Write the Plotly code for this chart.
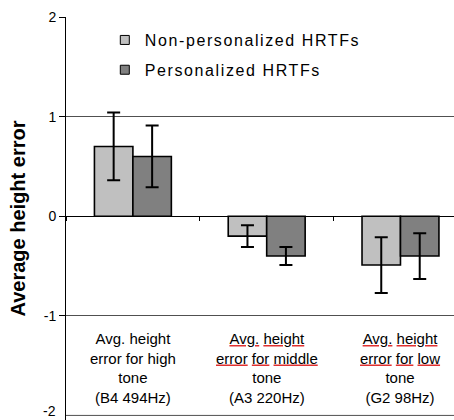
import plotly.graph_objects as go

# ---- data ----
category_lines = [
    ["Avg. height", "error for high", "tone", "(B4 494Hz)"],
    ["Avg. height", "error for middle", "tone", "(A3 220Hz)"],
    ["Avg. height", "error for low", "tone", "(G2 98Hz)"],
]
series_names = ["Non-personalized HRTFs", "Personalized HRTFs"]
non_personalized = [0.70, -0.20, -0.49]
non_personalized_err = [0.34, 0.11, 0.28]
personalized = [0.60, -0.40, -0.40]
personalized_err = [0.31, 0.09, 0.23]
y_ticks = [-2, -1, 0, 1, 2]
y_tick_labels = ["-2", "-1", "0", "1", "2"]
spell_flagged_labels = [1, 2]  # labels with red spell-check underlines
spell_flagged_lines = 2        # first N lines are flagged

FONT = "Arial, Liberation Sans, sans-serif"
GRID = "#505050"
categories = [" ".join(l) for l in category_lines]
colors = ["#C0C0C0", "#808080"]


def fmt_label(i, lines):
    out = []
    for j, line in enumerate(lines):
        if i in spell_flagged_labels and j < spell_flagged_lines:
            words = line.split(" ")
            line = " ".join(
                '<span style="text-decoration:underline;fill:#e03030;">'
                '<span style="fill:#000000;">%s</span></span>' % w
                for w in words
            )
        out.append(line)
    return "<br>".join(out)


fig = go.Figure()
for k, (name, vals, errs, col) in enumerate(zip(
    series_names,
    [non_personalized, personalized],
    [non_personalized_err, personalized_err],
    colors,
)):
    fig.add_trace(
        go.Bar(
            x=categories,
            y=vals,
            name=name,
            marker=dict(color=col, line=dict(color="#000000", width=1.6)),
            error_y=dict(type="data", array=errs, visible=True,
                         color="#000000", thickness=2, width=6.5),
            showlegend=False,
            legendgroup="g%d" % k,
        )
    )
    fig.add_trace(
        go.Scatter(
            x=[None], y=[None], mode="markers",
            name='<span style="letter-spacing:1.6px">%s</span>' % name,
            marker=dict(symbol="square", size=9, color=col,
                        line=dict(color="#000000", width=1)),
            showlegend=True,
            legendgroup="g%d" % k,
        )
    )

for i, lines in enumerate(category_lines):
    fig.add_annotation(
        x=categories[i], y=-1.52, xref="x", yref="y",
        text=fmt_label(i, lines), showarrow=False,
        font=dict(family=FONT, size=15, color="#000000"),
        align="center", yanchor="middle", xanchor="center",
    )

# bottom gridline and its label (plotly drops the one at the lower edge)
fig.add_hline(y=y_ticks[0], line=dict(color=GRID, width=1), layer="below")
fig.add_annotation(
    x=0, xref="paper", y=y_ticks[0], yref="y", text=y_tick_labels[0],
    showarrow=False, xanchor="right", yanchor="middle", xshift=-8, yshift=4,
    font=dict(family=FONT, size=14, color="#000000"),
)

fig.update_layout(
    width=454, height=420,
    margin=dict(l=66, r=0, t=17, b=0),
    paper_bgcolor="white", plot_bgcolor="white",
    barmode="group", bargap=0.425, bargroupgap=0,
    font=dict(family=FONT, color="#000000"),
    legend=dict(
        x=0.10, y=0.985, xanchor="left", yanchor="top",
        font=dict(family=FONT, size=16),
        bgcolor="rgba(0,0,0,0)", itemwidth=30,
        tracegroupgap=6,
    ),
    xaxis=dict(
        type="category",
        range=[-0.5, 2.40],
        anchor="free", position=2.046 / 4.046,
        showline=True, linecolor="#000000", linewidth=1,
        ticks="outside", tickson="boundaries", ticklen=4,
        tickcolor="#000000",
        showticklabels=False, showgrid=False, zeroline=False,
        automargin=False,
    ),
    yaxis=dict(
        range=[-2.046, 2.0],
        tickvals=y_ticks[1:], ticktext=y_tick_labels[1:],
        ticks="outside", ticklen=6, tickcolor="#000000",
        tickfont=dict(family=FONT, size=14),
        showline=True, linecolor="#000000", linewidth=1,
        showgrid=True, gridcolor=GRID, gridwidth=1,
        zeroline=True, zerolinecolor="#000000", zerolinewidth=1,
        automargin=False,
        title=dict(text="<b>Average height error</b>",
                   font=dict(family=FONT, size=20), standoff=12),
    ),
)

fig.write_html("out.html", config={"displayModeBar": False},
               post_script="document.body.style.margin='0';")
